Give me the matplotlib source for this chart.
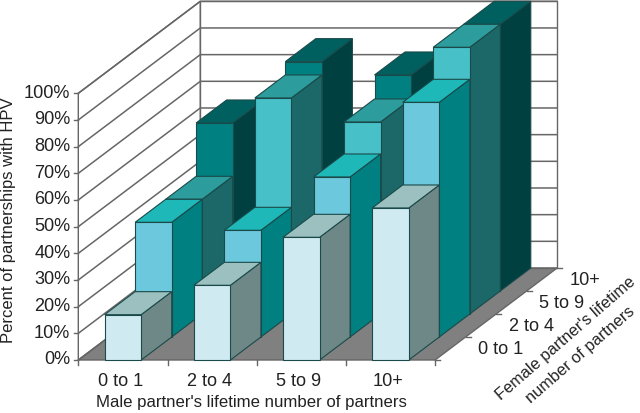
import matplotlib
matplotlib.use('Agg')
import matplotlib.pyplot as plt
from matplotlib.patches import Polygon

plt.rcParams['font.family'] = ['Liberation Sans', 'DejaVu Sans']

male_labels = ['0 to 1', '2 to 4', '5 to 9', '10+']
female_labels = ['0 to 1', '2 to 4', '5 to 9', '10+']
pct_ticks = [0, 10, 20, 30, 40, 50, 60, 70, 80, 90, 100]

# one list per female category, front row first
female_0_1 = [17, 28, 46, 57]
female_2_4 = [43, 40, 60, 88]
female_5_9 = [43, 81, 72, 100]
female_10 = [63, 86, 81, 100]
rows = [female_0_1, female_2_4, female_5_9, female_10]

# front, top, side colour for each row
front_cols = ['#D0EAF2', '#6CC8DC', '#48C0C8', '#008080']
top_cols = ['#9CC0C0', '#1FB8B8', '#2C9C9C', '#006060']
side_cols = ['#6E8888', '#008080', '#1C6868', '#004040']

edge_col = '#1A4A4A'
grid_col = '#666666'
text_col = '#222222'

# oblique projection of the Excel-style box, in pixels
X0, Y0 = 78.3, 361
COL_W = 89.2
ROW_DX, ROW_DY = 30.5, -23
PCT_H = 2.667
BAR_L, BAR_R = 0.295, 0.705


def project(col, row, pct):
    return (X0 + col * COL_W + row * ROW_DX, Y0 + row * ROW_DY - pct * PCT_H)


fig = plt.figure(figsize=(6.4, 4.14), dpi=100)
ax = fig.add_axes([0, 0, 1, 1])
ax.set_xlim(0, 640)
ax.set_ylim(414, 0)
ax.axis('off')

n_col = len(male_labels)
n_row = len(female_labels)

# floor and walls
ax.add_patch(Polygon([project(0, 0, 0), project(n_col, 0, 0), project(n_col, n_row, 0), project(0, n_row, 0)],
                     fc='#808080', ec=grid_col, lw=1, zorder=1))
ax.add_patch(Polygon([project(0, 0, 0), project(0, n_row, 0), project(0, n_row, 100), project(0, 0, 100)],
                     fc='white', ec=grid_col, lw=1, zorder=1))
ax.add_patch(Polygon([project(0, n_row, 0), project(n_col, n_row, 0), project(n_col, n_row, 100), project(0, n_row, 100)],
                     fc='white', ec=grid_col, lw=1, zorder=1))

for p in pct_ticks:
    a, b, c = project(0, 0, p), project(0, n_row, p), project(n_col, n_row, p)
    ax.plot([a[0], b[0], c[0]], [a[1], b[1], c[1]], color=grid_col, lw=1.1, zorder=2)
    ax.plot([a[0] - 4, a[0]], [a[1], a[1]], color=grid_col, lw=1, zorder=2)
    ax.text(a[0] - 8, a[1] - 1, f'{p}%', ha='right', va='center', fontsize=13.1, color=text_col)

# axis ticks and labels
for i in range(n_col + 1):
    a = project(i, 0, 0)
    ax.plot([a[0], a[0]], [a[1], a[1] + 5], color=grid_col, lw=1, zorder=2)
for i, lab in enumerate(male_labels):
    a = project(i + 0.5, 0, 0)
    ax.text(a[0] - 2.3, a[1] + 20.5, lab, ha='center', va='center', fontsize=13.1, color=text_col)
for r in range(n_row + 1):
    a = project(n_col, r, 0)
    ax.plot([a[0], a[0] + 5], [a[1], a[1]], color=grid_col, lw=1, zorder=2)
for r, lab in enumerate(female_labels):
    a = project(n_col, r + 0.5, 0)
    ax.text(a[0] + 28, a[1] + 0.5, lab, ha='left', va='center', fontsize=13.1, color=text_col)

# bars, back row first
for r in range(n_row - 1, -1, -1):
    for c in range(n_col):
        v = rows[r][c]
        l, rr = c + BAR_L, c + BAR_R
        ax.add_patch(Polygon([project(rr, r, 0), project(rr, r + 1, 0), project(rr, r + 1, v), project(rr, r, v)],
                             fc=side_cols[r], ec=edge_col, lw=0.8, zorder=3))
        ax.add_patch(Polygon([project(l, r, v), project(rr, r, v), project(rr, r + 1, v), project(l, r + 1, v)],
                             fc=top_cols[r], ec=edge_col, lw=0.8, zorder=3))
        ax.add_patch(Polygon([project(l, r, 0), project(rr, r, 0), project(rr, r, v), project(l, r, v)],
                             fc=front_cols[r], ec=edge_col, lw=0.8, zorder=3))

ax.text(9, 220, 'Percent of partnerships with HPV', rotation=90, ha='center', va='center',
        fontsize=12, color=text_col)
ax.text(251, 403, "Male partner's lifetime number of partners", ha='center', va='center',
        fontsize=12.1, color=text_col)
# two separate lines so each one sits on its own rotated baseline
ax.text(566, 339, "Female partner's lifetime", rotation=41, ha='center', va='center',
        rotation_mode='anchor', fontsize=11.8, color=text_col)
ax.text(580, 355, "number of partners", rotation=41, ha='center', va='center',
        rotation_mode='anchor', fontsize=11.8, color=text_col)

fig.savefig('out.png', dpi=100)
